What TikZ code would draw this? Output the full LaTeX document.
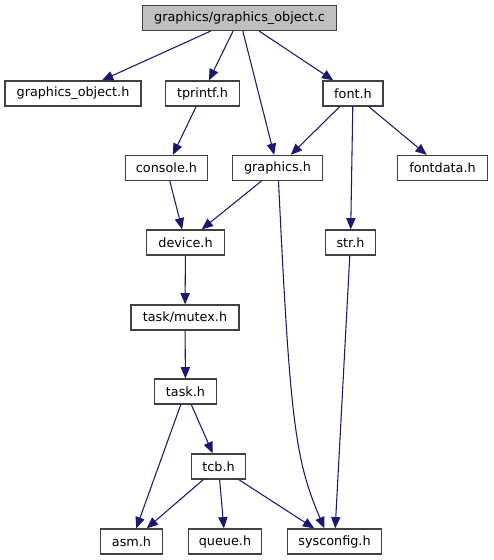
\documentclass[tikz,border=0pt]{standalone}
\usepackage{fontspec}
\setmainfont{DejaVu Sans}
\usepackage{xcolor}
\usepackage{tikz}
\usetikzlibrary{arrows.meta,calc}
\definecolor{DOXedge}{HTML}{191970}
\definecolor{DOXline}{HTML}{404040}
\definecolor{DOXroot}{HTML}{BFBFBF}
\tikzset{
  hdrbox/.style={draw=DOXline, fill=white, line width=0.9pt, minimum height=18.75pt, inner sep=0pt, font=\fontsize{9.6}{11}\selectfont, text=black},
  rootbox/.style={hdrbox, fill=DOXroot},
  incarr/.style={-{Triangle[length=8.5pt,width=7pt,fill=DOXedge]}, draw=DOXedge, line width=0.8pt}
}
\begin{document}
\begin{tikzpicture}[x=0.75pt, y=-0.75pt]
  \useasboundingbox (0,0) rectangle (493,560);
  % file and headers
  \node[rootbox, minimum width=146pt] (root) at (239.5,18) {graphics/graphics\_object.c};
  \node[hdrbox, minimum width=102pt] (gobjh) at (73,93.5) {graphics\_object.h};
  \node[hdrbox, minimum width=55pt] (tprintf) at (202.5,93.5) {tprintf.h};
  \node[hdrbox, minimum width=45pt] (font) at (353,93.5) {font.h};
  \node[hdrbox, minimum width=62pt] (console) at (166.5,168) {console.h};
  \node[hdrbox, minimum width=67pt] (graphics) at (277.5,168) {graphics.h};
  \node[hdrbox, minimum width=67pt] (fontdata) at (442.5,168) {fontdata.h};
  \node[hdrbox, minimum width=58pt] (device) at (185.5,242.5) {device.h};
  \node[hdrbox, minimum width=38pt] (str) at (350.5,242.5) {str.h};
  \node[hdrbox, minimum width=81pt] (mutex) at (185,317.5) {task/mutex.h};
  \node[hdrbox, minimum width=47pt] (task) at (185.5,391.5) {task.h};
  \node[hdrbox, minimum width=41pt] (tcb) at (218.5,466.5) {tcb.h};
  \node[hdrbox, minimum width=47pt] (asm) at (131.5,541.5) {asm.h};
  \node[hdrbox, minimum width=55pt] (queue) at (225,541.5) {queue.h};
  \node[hdrbox, minimum width=71pt] (sysconfig) at (334.5,541.5) {sysconfig.h};
  % include edges
  \draw[incarr] (root) -- (gobjh);
  \draw[incarr] (root) -- (tprintf);
  \draw[incarr] (root) -- (graphics);
  \draw[incarr] (root) -- (font);
  \draw[incarr] (tprintf) -- (console);
  \draw[incarr] (font) -- (graphics);
  \draw[incarr] (font) -- (str);
  \draw[incarr] (font) -- (fontdata);
  \draw[incarr] (console) -- (device);
  \draw[incarr] (graphics) -- (device);
  \draw[incarr] ($(graphics.south)+(1,0)$) .. controls (290,420) and (295,460) .. ($(sysconfig.north)+(-10,0)$);
  \draw[incarr] (device) -- (mutex);
  \draw[incarr] (mutex) -- (task);
  \draw[incarr] (str) -- (sysconfig);
  \draw[incarr] (task) -- (asm);
  \draw[incarr] (task) -- (tcb);
  \draw[incarr] (tcb) -- (asm);
  \draw[incarr] (tcb) -- (queue);
  \draw[incarr] (tcb) -- (sysconfig);
\end{tikzpicture}
\end{document}
